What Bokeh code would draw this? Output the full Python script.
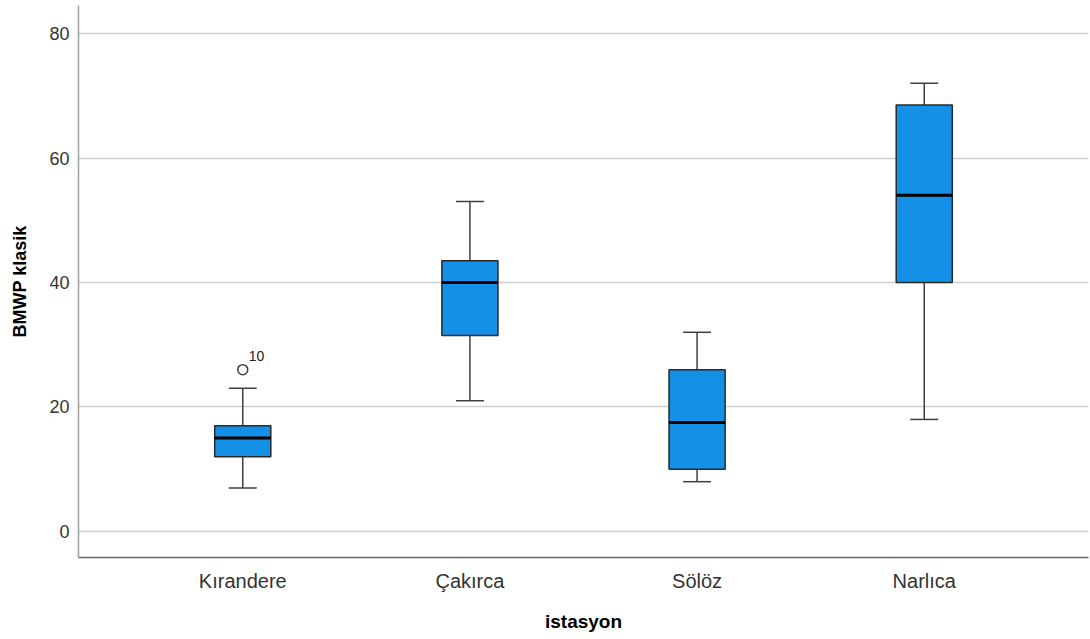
from bokeh.plotting import figure
from bokeh.models import FixedTicker, Range1d, ColumnDataSource
from bokeh.embed import file_html
from bokeh.resources import INLINE

stations = ["Kırandere", "Çakırca", "Sölöz", "Narlıca"]
lower = [7, 21, 8, 18]
q1 = [12, 31.5, 10, 40]
median = [15, 40, 17.5, 54]
q3 = [17, 43.5, 26, 68.5]
upper = [23, 53, 32, 72]
outlier_station = ["Kırandere"]
outlier_value = [26]
outlier_label = ["10"]
y_ticks = [0, 20, 40, 60, 80]

pos = [i + 1 for i in range(len(stations))]
box_w = 0.247
cap_w = 0.123

src = ColumnDataSource(dict(
    x=pos, lower=lower, q1=q1, median=median, q3=q3, upper=upper,
    cl=[x - cap_w / 2 for x in pos], cr=[x + cap_w / 2 for x in pos],
    ml=[x - box_w / 2 for x in pos], mr=[x + box_w / 2 for x in pos],
))
opos = [pos[stations.index(s)] for s in outlier_station]
osrc = ColumnDataSource(dict(x=opos, y=outlier_value, t=outlier_label))

p = figure(width=1090, height=639, output_backend="svg", toolbar_location=None,
           x_range=Range1d(0.277, 4.723), y_range=Range1d(-4.18, 84.5))
p.min_border_left = 78
p.min_border_right = 2
p.min_border_top = 5
p.min_border_bottom = 82
p.outline_line_color = None
p.background_fill_color = "white"
p.border_fill_color = "white"

# grid
p.xgrid.grid_line_color = None
p.ygrid.grid_line_color = "#cfcfcf"
p.ygrid.grid_line_width = 1.5

# axes
p.yaxis.ticker = FixedTicker(ticks=y_ticks)
p.xaxis.ticker = FixedTicker(ticks=pos)
p.xaxis.major_label_overrides = {x: s for x, s in zip(pos, stations)}
for ax in (p.xaxis[0], p.yaxis[0]):
    ax.major_tick_line_color = None
    ax.minor_tick_line_color = None
    ax.major_label_text_font = "Liberation Sans"
    ax.major_label_text_color = "#333333"
    ax.axis_label_text_font = "Liberation Sans"
    ax.axis_label_text_font_style = "bold"
    ax.axis_label_text_color = "#000000"
p.xaxis.major_label_text_font_size = "20px"
p.yaxis.major_label_text_font_size = "18px"
p.yaxis.axis_line_color = "#a0a0a0"
p.yaxis.axis_line_width = 1.5
p.xaxis.axis_line_color = "#666666"
p.xaxis.axis_line_width = 1.5
p.xaxis.axis_label = "istasyon"
p.yaxis.axis_label = "BMWP klasik"
p.xaxis.axis_label_text_font_size = "19px"
p.yaxis.axis_label_text_font_size = "18px"
p.xaxis.major_label_standoff = 6
p.yaxis.major_label_standoff = 3
p.xaxis.axis_label_standoff = 16
p.yaxis.axis_label_standoff = 16

# whiskers
wc = "#404040"
p.segment(x0="x", y0="q3", x1="x", y1="upper", source=src, line_color=wc, line_width=1.5)
p.segment(x0="x", y0="q1", x1="x", y1="lower", source=src, line_color=wc, line_width=1.5)
p.segment(x0="cl", y0="upper", x1="cr", y1="upper", source=src, line_color=wc, line_width=1.5)
p.segment(x0="cl", y0="lower", x1="cr", y1="lower", source=src, line_color=wc, line_width=1.5)

# boxes
p.vbar(x="x", width=box_w, bottom="q1", top="q3", source=src,
       fill_color="#1490e6", line_color="#2a2a2a", line_width=1.5)
p.segment(x0="ml", y0="median", x1="mr", y1="median", source=src,
          line_color="#000000", line_width=3)

# outlier
p.scatter(x="x", y="y", source=osrc, size=10, marker="circle",
          fill_color="white", line_color="#404040", line_width=1.5)
p.text(x="x", y="y", text="t", source=osrc, x_offset=6, y_offset=-9,
       text_font_size="14px", text_color="#222222", text_baseline="bottom",
       text_font={"value": "Liberation Sans"})

open("out.html", "w").write(file_html(p, INLINE))
